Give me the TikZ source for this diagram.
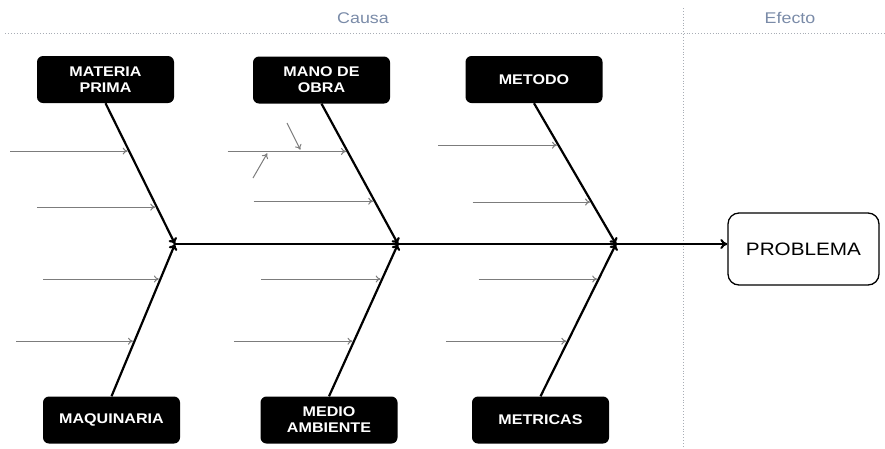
\documentclass[tikz,border=0pt]{standalone}
\usepackage{fontspec}
\setmainfont{Liberation Sans}[FakeStretch=1.15]
\usetikzlibrary{arrows.meta,calc}
\definecolor{headtext}{HTML}{7A8BA8}
\definecolor{guide}{HTML}{A8ADB5}
\definecolor{minor}{HTML}{7C7C7C}
\tikzset{
  cause/.style={fill=black, rounded corners=6pt, minimum width=137pt, minimum height=47pt,
    text=white, font=\bfseries\fontsize{14}{16}\selectfont, align=center, inner sep=0pt},
  effect/.style={draw=black, line width=1.3pt, rounded corners=11pt, minimum width=151pt,
    minimum height=72pt, font=\fontsize{18}{20}\selectfont, inner sep=0pt},
  bone/.style={line width=2.2pt, -{To[length=6pt,width=9pt]}},
  spine/.style={line width=2pt, -{To[length=7pt,width=10pt]}},
  twig/.style={draw=minor, line width=1pt, -{To[length=5pt,width=7pt]}, shorten >=1.5pt},
  guideline/.style={draw=guide, line width=0.9pt, dotted},
  header/.style={text=headtext, font=\fontsize{15.5}{17}\selectfont}
}
\begin{document}
\begin{tikzpicture}[x=1pt,y=-1pt]
\useasboundingbox (0,0) rectangle (885,448);

% section headers and dividers
\node[header] (causa) at (363,18) {Causa};
\node[header] (efecto) at (790,18) {Efecto};
\draw[guideline] (5,33) -- (885,33);
\draw[guideline] (683,8) -- (683,448);

% category boxes
\node[cause] (mp) at (105.5,79.5) {MATERIA\\PRIMA};
\node[cause] (mo) at (321.5,80) {MANO DE\\OBRA};
\node[cause] (me) at (534,79.5) {METODO};
\node[cause] (mq) at (111.5,420) {MAQUINARIA};
\node[cause] (ma) at (329,420) {MEDIO\\AMBIENTE};
\node[cause] (mt) at (540.5,420) {METRICAS};
\node[effect] (pb) at (803.5,249) {PROBLEMA};

% junctions on the spine
\coordinate (j1) at (175,244);
\coordinate (j2) at (398,244);
\coordinate (j3) at (616,244);

% spine
\draw[spine] (j1) -- (pb.west |- j1);

% main bones
\draw[bone] (mp.south) -- (j1);
\draw[bone] (mo.south) -- (j2);
\draw[bone] (me.south) -- (j3);
\draw[bone] (mq.north) -- (j1);
\draw[bone] (ma.north) -- (j2);
\draw[bone] (mt.north) -- (j3);

% points on the bones where the minor causes land
\coordinate (a1) at ($(mp.south)!0.340!(j1)$);
\coordinate (a2) at ($(mp.south)!0.738!(j1)$);
\coordinate (b1) at ($(mo.south)!0.340!(j2)$);
\coordinate (b2) at ($(mo.south)!0.695!(j2)$);
\coordinate (c1) at ($(me.south)!0.298!(j3)$);
\coordinate (c2) at ($(me.south)!0.702!(j3)$);
\coordinate (d1) at ($(mq.north)!0.770!(j1)$);
\coordinate (d2) at ($(mq.north)!0.362!(j1)$);
\coordinate (e1) at ($(ma.north)!0.770!(j2)$);
\coordinate (e2) at ($(ma.north)!0.362!(j2)$);
\coordinate (f1) at ($(mt.north)!0.770!(j3)$);
\coordinate (f2) at ($(mt.north)!0.362!(j3)$);

% minor causes
\coordinate (a1s) at ($(a1)+(-119,0)$);
\coordinate (a2s) at ($(a2)+(-120,0)$);
\coordinate (b1s) at ($(b1)+(-120,0)$);
\coordinate (b2s) at ($(b2)+(-121,0)$);
\coordinate (c1s) at ($(c1)+(-120,0)$);
\coordinate (c2s) at ($(c2)+(-119,0)$);
\coordinate (d1s) at ($(d1)+(-117,0)$);
\coordinate (d2s) at ($(d2)+(-118,0)$);
\coordinate (e1s) at ($(e1)+(-121,0)$);
\coordinate (e2s) at ($(e2)+(-120,0)$);
\coordinate (f1s) at ($(f1)+(-120,0)$);
\coordinate (f2s) at ($(f2)+(-122,0)$);
\foreach \p in {a1,a2,b1,b2,c1,c2,d1,d2,e1,e2,f1,f2}
  \draw[twig] (\p s) -- (\p);

% sub-causes on the first minor cause of MANO DE OBRA
\coordinate (g1) at (301,151);
\coordinate (g1s) at (287,123);
\coordinate (g2) at (268,152);
\coordinate (g2s) at (253,178);
\draw[twig] (g1s) -- (g1);
\draw[twig] (g2s) -- (g2);
\end{tikzpicture}
\end{document}
